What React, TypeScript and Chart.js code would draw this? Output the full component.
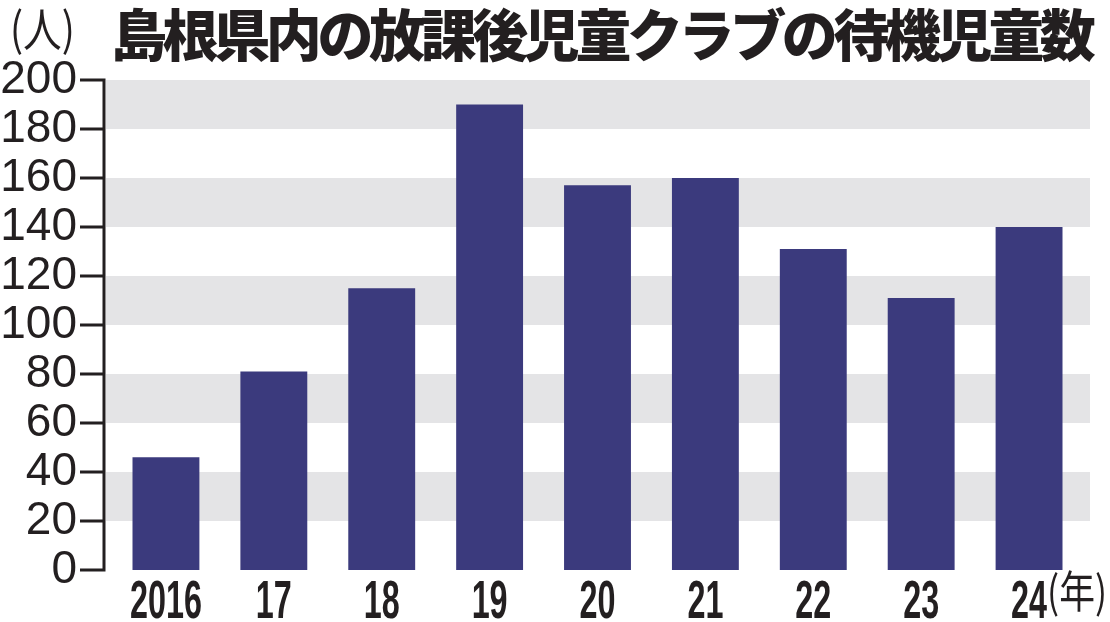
import React, { useEffect, useRef } from 'react';
import { Chart, registerables } from 'chart.js';

Chart.register(...registerables);

const TITLE = '島根県内の放課後児童クラブの待機児童数';
const Y_UNIT = '(人)';
const X_UNIT = '(年)';

const categories = ['2016', '17', '18', '19', '20', '21', '22', '23', '24'];
const waitingChildren = [46, 81, 115, 190, 157, 160, 131, 111, 140];

const Y_MIN = 0;
const Y_MAX = 200;
const Y_STEP = 20;
const shadedBands: [number, number][] = [
  [20, 40],
  [60, 80],
  [100, 120],
  [140, 160],
  [180, 200],
];

const BAR_COLOR = '#3b3a7d';
const BAND_COLOR = '#e4e4e6';
const INK = '#231f20';

const decorPlugin = {
  id: 'decor',
  beforeDatasetsDraw(chart: any) {
    const { ctx, chartArea, scales } = chart;
    const y = scales.y;
    const axisX = chartArea.left - 8;
    ctx.save();
    ctx.fillStyle = BAND_COLOR;
    for (const [a, b] of shadedBands) {
      const top = y.getPixelForValue(b);
      const bot = y.getPixelForValue(a);
      ctx.fillRect(axisX + 2, top, chartArea.right + 7 - (axisX + 2), bot - top);
    }
    ctx.restore();
  },
  afterDatasetsDraw(chart: any) {
    const { ctx, chartArea, scales } = chart;
    const y = scales.y;
    const x = scales.x;
    const axisX = chartArea.left - 8;
    ctx.save();
    ctx.strokeStyle = INK;
    ctx.lineWidth = 3;
    ctx.lineCap = 'butt';
    ctx.beginPath();
    ctx.moveTo(axisX, y.getPixelForValue(Y_MAX) - 1.5);
    ctx.lineTo(axisX, y.getPixelForValue(Y_MIN) + 1.5);
    for (let v = Y_MIN; v <= Y_MAX; v += Y_STEP) {
      const py = y.getPixelForValue(v);
      ctx.moveTo(axisX - 24, py);
      ctx.lineTo(axisX + 1.5, py);
    }
    ctx.stroke();

    // condensed category labels, positioned by the category scale
    ctx.fillStyle = INK;
    ctx.font = 'bold 53px "Liberation Sans", Arial, sans-serif';
    ctx.textBaseline = 'alphabetic';
    ctx.textAlign = 'center';
    const labels: string[] = chart.data.labels;
    const sx = 0.61;
    labels.forEach((lab, i) => {
      const px = x.getPixelForValue(i);
      ctx.save();
      ctx.translate(px, chartArea.bottom + 48);
      ctx.scale(sx, 1);
      ctx.fillText(lab, 0, 0);
      ctx.restore();
    });

    // unit label after the last category
    const lastX = x.getPixelForValue(categories.length - 1);
    ctx.font = '44px "Noto Sans CJK JP"';
    ctx.textBaseline = 'top';
    ctx.textAlign = 'left';
    const w = ctx.measureText(X_UNIT).width;
    const k = Math.min(1, 60 / w);
    ctx.save();
    ctx.translate(lastX + 18, chartArea.bottom - 1);
    ctx.scale(k, 1);
    ctx.fillText(X_UNIT, 0, 0);
    ctx.restore();
    ctx.restore();
  },
};

export default function App() {
  const canvasRef = useRef<HTMLCanvasElement | null>(null);

  useEffect(() => {
    document.body.style.margin = '0';
    document.body.style.overflow = 'hidden';
    const canvas = canvasRef.current;
    if (!canvas) return;
    const chart = new Chart(canvas, {
      type: 'bar',
      data: {
        labels: categories,
        datasets: [
          {
            data: waitingChildren,
            backgroundColor: BAR_COLOR,
            borderWidth: 0,
            categoryPercentage: 1,
            barPercentage: 0.62,
          },
        ],
      },
      options: {
        responsive: false,
        animation: false,
        devicePixelRatio: 1,
        layout: { padding: { top: 80, right: 27, bottom: 0, left: 0 } },
        plugins: {
          legend: { display: false },
          title: { display: false },
          tooltip: { enabled: false },
        },
        scales: {
          x: {
            grid: { display: false, drawTicks: false },
            border: { display: false },
            ticks: { display: false },
            afterFit(scale: any) {
              scale.height = 52;
            },
          },
          y: {
            min: Y_MIN,
            max: Y_MAX,
            grid: { display: false, drawTicks: false },
            border: { display: false },
            ticks: {
              stepSize: Y_STEP,
              autoSkip: false,
              color: INK,
              padding: 35,
              font: { family: '"Liberation Sans", Arial, sans-serif', size: 46 },
            },
            afterFit(scale: any) {
              scale.width = 112;
              scale.paddingTop = 0;
              scale.paddingBottom = 0;
            },
          },
        },
      },
      plugins: [decorPlugin],
    });
    return () => chart.destroy();
  }, []);

  return (
    <div style={{ position: 'relative', width: 1110, height: 622, background: '#fff', overflow: 'hidden' }}>
      <canvas ref={canvasRef} width={1110} height={622} style={{ display: 'block' }} />
      <div
        style={{
          position: 'absolute',
          left: 10,
          top: 3,
          fontFamily: '"Noto Sans CJK JP", sans-serif',
          fontSize: 46,
          lineHeight: 1,
          color: INK,
          whiteSpace: 'nowrap',
          transform: 'scaleX(0.84)',
          transformOrigin: 'left top',
        }}
      >
        {Y_UNIT}
      </div>
      <div
        style={{
          position: 'absolute',
          left: 111,
          top: 4,
          fontFamily: '"Noto Sans CJK JP", sans-serif',
          fontWeight: 900,
          fontSize: 56,
          lineHeight: 1,
          letterSpacing: -4.4,
          color: INK,
          whiteSpace: 'nowrap',
        }}
      >
        {TITLE}
      </div>
    </div>
  );
}
